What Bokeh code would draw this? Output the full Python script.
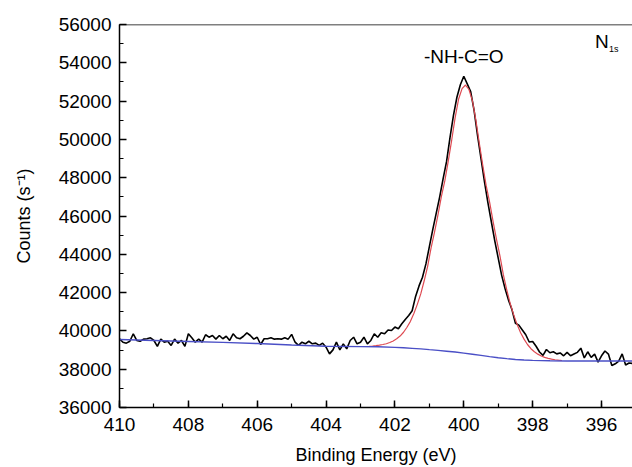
from bokeh.plotting import figure
from bokeh.models import Range1d, SingleIntervalTicker, Label, Span
from bokeh.embed import file_html
from bokeh.resources import INLINE

# measured spectrum (Binding Energy 410.0 -> 395.1 eV, step 0.1 eV)
counts = [
    39590, 39410, 39360, 39460, 39850, 39500, 39460, 39570, 39590, 39640,
    39500, 39190, 39570, 39410, 39460, 39240, 39570, 39360, 39500, 39190,
    39850, 39640, 39410, 39570, 39410, 39800, 39670, 39760, 39570, 39760,
    39590, 39720, 39500, 39850, 39640, 39590, 39720, 39900, 39760, 39570,
    39670, 39290, 39590, 39590, 39640, 39570, 39590, 39570, 39640, 39570,
    39820, 39410, 39240, 39410, 39325, 39460, 39325, 39360, 39240, 39360,
    39150, 38800, 39010, 39410, 39010, 39325, 39060, 39500, 39670, 39325,
    39410, 39670, 39325, 39500, 39850, 39670, 39900, 39850, 40050, 40020,
    40200, 40110, 40370, 40600, 40800, 41050, 41800, 42350, 42800, 43500,
    44400, 45300, 46150, 47000, 47950, 48850, 50100, 51250, 52200, 52850,
    53300, 52900, 52500, 51500, 50200, 49000, 47800, 46700, 45700, 44700,
    43800, 42900, 42200, 41600, 41100, 40400, 40300, 40050, 39800, 39420,
    39450, 39200, 38900, 38720, 39030, 38860, 38910, 38800, 38850, 38700,
    38880, 38700, 38790, 38880, 39100, 38590, 38910, 38620, 38790, 38370,
    38700, 38950, 38790, 38190, 38280, 38420, 38800, 38220, 38320, 38300,
]
energy = [round(410.0 - 0.1 * i, 2) for i in range(len(counts))]

# fitted -NH-C=O component (402.75 -> 397.15 eV, step 0.1 eV)
fit_counts = [
    39195, 39208, 39227, 39255, 39289, 39328, 39392, 39476, 39590, 39730,
    39930, 40190, 40500, 40910, 41386, 41932, 42618, 43374, 44340, 45164,
    46058, 47022, 47846, 48880, 49980, 51150, 52110, 52650, 52840, 52606,
    52022, 51018, 49804, 48660, 47586, 46722, 45718, 44784, 43920, 42922,
    42134, 41416, 40838, 40330, 39900, 39570, 39290, 39070, 38910, 38786,
    38692, 38618, 38569, 38525, 38494, 38471, 38454,
]
fit_energy = [round(402.75 - 0.1 * i, 2) for i in range(len(fit_counts))]

# Shirley-type background
base_energy = [410, 409, 408, 407, 406, 405, 404, 403, 402.5, 402, 401.75, 401.5,
               401.25, 401, 400.75, 400.5, 400.25, 400, 399.75, 399.5, 399.25,
               399, 398.75, 398.5, 398.25, 398, 397.5, 397, 396, 395.1]
base_counts = [39550, 39500, 39450, 39400, 39340, 39260, 39200, 39180, 39170, 39140,
               39120, 39090, 39060, 39020, 38985, 38940, 38895, 38840, 38780, 38720,
               38655, 38600, 38550, 38510, 38480, 38460, 38440, 38430, 38430, 38430]

x_ticks_interval = 2
y_ticks_interval = 2000

FONT = "Liberation Sans"

p = figure(width=632, height=467, output_backend="svg", toolbar_location=None,
           x_range=Range1d(410, 395.1), y_range=Range1d(36000, 56000),
           min_border_left=119, min_border_right=0, min_border_top=24,
           min_border_bottom=60)
p.outline_line_color = None
p.grid.visible = False
p.background_fill_color = "white"
p.border_fill_color = "white"

p.line(energy, counts, line_color="black", line_width=1.6)
p.line(fit_energy, fit_counts, line_color="#de4a52", line_width=1.2)
p.line(base_energy, base_counts, line_color="#4a4fc6", line_width=1.4)

p.xaxis.ticker = SingleIntervalTicker(interval=x_ticks_interval, num_minor_ticks=2)
p.yaxis.ticker = SingleIntervalTicker(interval=y_ticks_interval, num_minor_ticks=2)

for ax in (p.xaxis[0], p.yaxis[0]):
    ax.axis_line_color = "black"
    ax.axis_line_width = 1.5
    ax.major_tick_line_color = "black"
    ax.minor_tick_line_color = "black"
    ax.major_tick_line_width = 1.5
    ax.minor_tick_line_width = 1.2
    ax.major_tick_in = 7
    ax.major_tick_out = 0
    ax.minor_tick_in = 4
    ax.minor_tick_out = 0
    ax.major_label_text_font = FONT
    ax.major_label_text_font_size = "19px"
    ax.major_label_text_color = "black"
    ax.axis_label_text_font = FONT
    ax.axis_label_text_font_size = "18px"
    ax.axis_label_text_font_style = "normal"
    ax.axis_label_text_color = "black"

p.xaxis.axis_label = "Binding Energy (eV)"
p.yaxis.axis_label = "Counts (s\u207b\u00b9)"
p.xaxis.major_label_standoff = 10
p.xaxis.axis_label_standoff = 11
p.yaxis.major_label_standoff = 8
p.yaxis.axis_label_standoff = 22

p.add_layout(Span(location=56000, dimension="width", line_color="black", line_width=1.5))

p.add_layout(Label(x=400.0, y=54330, text="-NH-C=O", text_align="center",
                   text_baseline="alphabetic", text_font=FONT,
                   text_font_size="19px", text_color="black"))
p.add_layout(Label(x=396.19, y=55100, text="N", text_align="left",
                   text_baseline="alphabetic", text_font=FONT,
                   text_font_size="19px", text_color="black"))
p.add_layout(Label(x=395.78, y=54700, text="1s", text_align="left",
                   text_baseline="alphabetic", text_font=FONT,
                   text_font_size="9px", text_color="black"))

open("out.html", "w").write(file_html(p, INLINE))
